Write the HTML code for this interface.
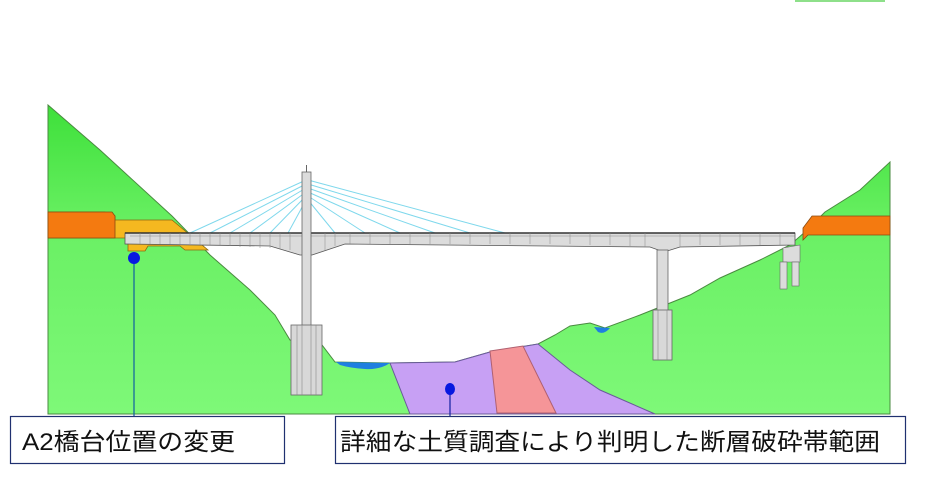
<!DOCTYPE html>
<html><head><meta charset="utf-8"><style>
html,body{margin:0;padding:0;background:#fff;}
svg{display:block;}
text{font-family:"Liberation Sans","Noto Sans CJK JP",sans-serif;}
</style></head><body>
<svg width="927" height="485" viewBox="0 0 927 485" xmlns="http://www.w3.org/2000/svg">
<defs>
<linearGradient id="g" x1="0" y1="0" x2="0" y2="1">
<stop offset="0" stop-color="#3ee03a"/><stop offset="0.4" stop-color="#6af064"/><stop offset="1" stop-color="#7ef878"/>
</linearGradient>
</defs>
<rect x="795" y="0" width="90" height="2" fill="#8ee08a"/>
<path d="M48,105 L100,150 L172,216 L210,255 L250,290 L275,315 L290,340 L322,345 L335,362 L390,363 L455,362 L490,352 L538,344 L555,335 L570,326 L590,323 L605,328 L640,315 L660,307 L690,295 L720,278 L760,260 L790,245 L805,232 L825,212 L860,190 L890,162 L890,414 L48,414 Z" fill="url(#g)" stroke="#4a8a40" stroke-width="1"/>
<path d="M336,362 L390,363 Q380,370 365,369 Q350,368 340,365 Z" fill="#1f7fe0"/>
<path d="M594,327 L610,328 Q604,335 598,332 Z" fill="#1f7fe0"/>
<path d="M390,363 L455,362 L490,352 L538,344 L570,370 L600,390 L655,414 L410,414 Z" fill="#c7a0f4" stroke="#6a5a9a" stroke-width="1"/>
<path d="M490,351 L523,346 L556,413 L497,413 Z" fill="#f59598" stroke="#b06070" stroke-width="1"/>
<g stroke="#7fd8ec" stroke-width="1">
<line x1="306" y1="180" x2="190" y2="233"/><line x1="306" y1="184" x2="210" y2="233"/><line x1="306" y1="188" x2="230" y2="233"/><line x1="306" y1="192" x2="250" y2="233"/><line x1="306" y1="196" x2="270" y2="233"/><line x1="306" y1="200" x2="288" y2="233"/>
<line x1="308" y1="180" x2="505" y2="233"/><line x1="308" y1="184" x2="470" y2="233"/><line x1="308" y1="188" x2="435" y2="233"/><line x1="308" y1="192" x2="400" y2="233"/><line x1="308" y1="196" x2="365" y2="233"/><line x1="308" y1="200" x2="335" y2="233"/>
</g>
<path d="M48,212 L105,212 L108,216 L115,216 L115,220 L172,220 L208,250 L185,250 L180,246 L148,246 L145,251 L128,251 L128,238 L48,238 Z" fill="#f5b820" stroke="#8a6a10" stroke-width="0.8"/>
<path d="M48,212 L112,212 L115,216 L115,238 L48,238 Z" fill="#f47a10" stroke="#8a4a10" stroke-width="0.8"/>
<path d="M812,216 L890,216 L890,235 L808,235 L803,240 L803,228 Z" fill="#f47a10" stroke="#8a4a10" stroke-width="0.8"/>
<path d="M125,233 L795,233 L795,245 L680,247 L664,252 L650,247 L345,244 L312,255 L300,255 L270,246 L125,244 Z" fill="#dcdcdc" stroke="#555" stroke-width="0.8"/>
<line x1="125" y1="233" x2="795" y2="233" stroke="#333" stroke-width="1.5"/>
<path d="M130,236 L795,236" stroke="#888" stroke-width="0.5"/>
<g stroke="#888" stroke-width="0.5">
<path d="M140,233v11M150,233v11M160,233v11M170,233v11M180,233v11M190,233v11M200,233v12M210,233v12M220,233v13M230,233v13M240,233v14M250,233v14M260,233v15M270,233v15M280,233v16M290,233v17M325,233v17M335,233v13M350,233v11M370,233v11M390,233v11M410,233v11M430,233v11M450,233v11M470,233v11M490,233v11M510,233v11M530,233v11M550,233v11M570,233v11M590,233v12M610,233v12M630,233v13M645,233v14M680,233v14M700,233v12M720,233v12M740,233v12M760,233v12M780,233v12"/>
</g>
<rect x="302" y="172" width="9" height="155" fill="#dcdcdc" stroke="#666" stroke-width="0.8"/>
<line x1="306.5" y1="165" x2="306.5" y2="172" stroke="#666"/>
<rect x="291" y="325" width="31" height="70" fill="#d8d8d8" stroke="#666" stroke-width="0.8"/>
<path d="M297,325v70M302,325v70M311,325v70M316,325v70" stroke="#888" stroke-width="0.6"/>
<rect x="657" y="250" width="11" height="62" fill="#dcdcdc" stroke="#666" stroke-width="0.8"/>
<rect x="653" y="310" width="19" height="50" fill="#d8d8d8" stroke="#666" stroke-width="0.8"/>
<path d="M658,310v50M667,310v50" stroke="#888" stroke-width="0.6"/>
<path d="M783,248 L800,245 L800,262 L783,262 Z" fill="#dcdcdc" stroke="#666" stroke-width="0.6"/>
<rect x="780" y="262" width="7" height="27" fill="#dcdcdc" stroke="#666" stroke-width="0.6"/>
<rect x="792" y="262" width="7" height="24" fill="#dcdcdc" stroke="#666" stroke-width="0.6"/>
<line x1="134" y1="258" x2="134" y2="417" stroke="#1060a0" stroke-width="1.2"/>
<circle cx="134" cy="258" r="6" fill="#0818e0"/>
<line x1="450" y1="390" x2="450" y2="417" stroke="#1020a0" stroke-width="1.2"/>
<ellipse cx="450" cy="389" rx="5" ry="6" fill="#0818e0"/>
<rect x="10.5" y="416.5" width="274" height="47" fill="#fff" stroke="#203070" stroke-width="1.2"/>
<rect x="335.5" y="416.5" width="570" height="47" fill="#fff" stroke="#203070" stroke-width="1.2"/>
<text x="22" y="450" font-size="24" fill="#111" textLength="213" lengthAdjust="spacingAndGlyphs">A2橋台位置の変更</text>
<text x="340" y="450" font-size="24" fill="#111" textLength="540" lengthAdjust="spacingAndGlyphs">詳細な土質調査により判明した断層破砕帯範囲</text>
</svg>
</body></html>
